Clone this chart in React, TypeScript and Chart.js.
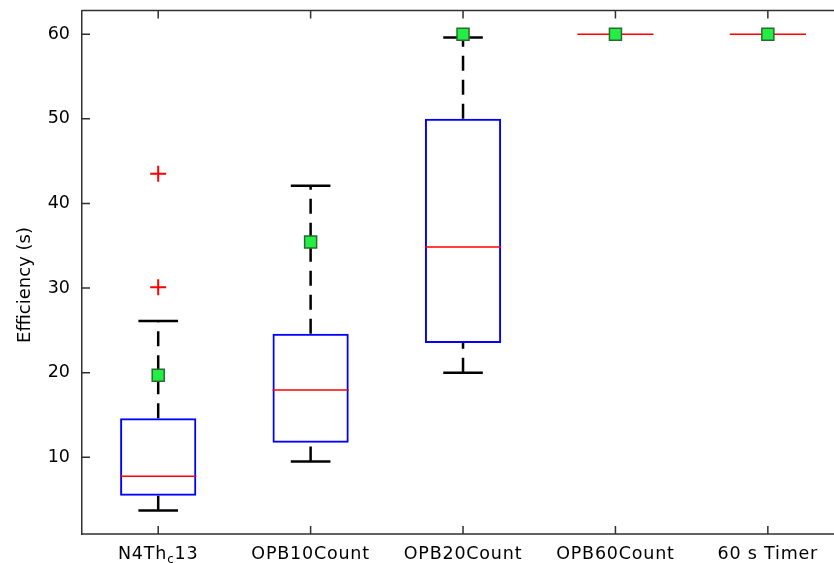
import React, { useEffect, useRef } from "react";
import { Chart, registerables } from "chart.js";

Chart.register(...registerables);

// ---- data ----
const categories = ["N4Th_c13", "OPB10Count", "OPB20Count", "OPB60Count", "60 s Timer"];
const q1 = [5.45, 11.7, 23.5, 60, 60];
const q3 = [14.6, 24.6, 50, 60, 60];
const medians = [7.75, 17.95, 34.85, 60, 60];
const whiskerLow = [3.7, 9.5, 20, 60, 60];
const whiskerHigh = [26.1, 42.1, 59.6, 60, 60];
const means = [19.7, 35.45, 60, 60, 60];
const outlierCategory = [1, 1];
const outlierValues = [43.5, 30.1];
const yTicks = [10, 20, 30, 40, 50, 60];
const yTitle = "Efficiency (s)";

const FONT = "DejaVu Sans";
const AXIS_COLOR = "#303030";

function drawLabel(ctx: CanvasRenderingContext2D, text: string, cx: number, baseline: number) {
  // supports "_x" single-char subscript
  const parts: { t: string; sub: boolean }[] = [];
  let i = 0;
  let buf = "";
  while (i < text.length) {
    if (text[i] === "_" && i + 1 < text.length) {
      if (buf) parts.push({ t: buf, sub: false });
      buf = "";
      parts.push({ t: text[i + 1], sub: true });
      i += 2;
    } else {
      buf += text[i];
      i++;
    }
  }
  if (buf) parts.push({ t: buf, sub: false });
  const mainFont = `17.5px "${FONT}"`;
  const subFont = `12px "${FONT}"`;
  let total = 0;
  const widths = parts.map((p) => {
    ctx.font = p.sub ? subFont : mainFont;
    const w = ctx.measureText(p.t).width;
    total += w;
    return w;
  });
  let x = cx - total / 2;
  parts.forEach((p, k) => {
    ctx.font = p.sub ? subFont : mainFont;
    ctx.fillText(p.t, x, p.sub ? baseline + 4 : baseline);
    x += widths[k];
  });
}

const boxPlugin = {
  id: "boxParts",
  beforeDatasetsDraw(chart: any) {
    const { ctx, scales } = chart;
    const xs = scales.x;
    const ys = scales.y;
    ctx.save();
    ctx.strokeStyle = "#000";
    ctx.lineWidth = 2.5;
    categories.forEach((_, i) => {
      const xc = xs.getPixelForValue(i + 1);
      const capL = xs.getPixelForValue(i + 1 - 0.13);
      const capR = xs.getPixelForValue(i + 1 + 0.13);
      if (whiskerHigh[i] > q3[i]) {
        ctx.setLineDash([15, 9]);
        ctx.beginPath();
        ctx.moveTo(xc, ys.getPixelForValue(q3[i]));
        ctx.lineTo(xc, ys.getPixelForValue(whiskerHigh[i]));
        ctx.stroke();
        ctx.setLineDash([]);
        ctx.beginPath();
        const y = ys.getPixelForValue(whiskerHigh[i]);
        ctx.moveTo(capL, y);
        ctx.lineTo(capR, y);
        ctx.stroke();
      }
      if (whiskerLow[i] < q1[i]) {
        ctx.setLineDash([15, 9]);
        ctx.beginPath();
        ctx.moveTo(xc, ys.getPixelForValue(whiskerLow[i]));
        ctx.lineTo(xc, ys.getPixelForValue(q1[i]));
        ctx.stroke();
        ctx.setLineDash([]);
        ctx.beginPath();
        const y = ys.getPixelForValue(whiskerLow[i]);
        ctx.moveTo(capL, y);
        ctx.lineTo(capR, y);
        ctx.stroke();
      }
    });
    ctx.restore();
  },
  afterDatasetDraw(chart: any, args: any) {
    if (args.index !== 0) return;
    const { ctx, scales } = chart;
    const xs = scales.x;
    const ys = scales.y;
    ctx.save();
    ctx.strokeStyle = "#ff0000";
    ctx.lineWidth = 1.6;
    categories.forEach((_, i) => {
      const y = ys.getPixelForValue(medians[i]);
      ctx.beginPath();
      ctx.moveTo(xs.getPixelForValue(i + 1 - 0.25), y);
      ctx.lineTo(xs.getPixelForValue(i + 1 + 0.25), y);
      ctx.stroke();
    });
    ctx.restore();
  },
  afterDraw(chart: any) {
    const { ctx, scales, chartArea, width } = chart;
    const xs = scales.x;
    const ys = scales.y;
    ctx.save();
    // keep the right edge of the frame clean (axes box is cut off there)
    ctx.fillStyle = "#fff";
    ctx.fillRect(chartArea.right - 2, chartArea.top + 1, width - chartArea.right + 2, chartArea.bottom - chartArea.top - 2);
    // frame top & bottom
    ctx.strokeStyle = AXIS_COLOR;
    ctx.lineWidth = 1.5;
    ctx.beginPath();
    ctx.moveTo(chartArea.left, chartArea.top);
    ctx.lineTo(chartArea.right, chartArea.top);
    ctx.moveTo(chartArea.left, chartArea.bottom);
    ctx.lineTo(chartArea.right, chartArea.bottom);
    ctx.stroke();
    // inner ticks
    ctx.beginPath();
    yTicks.forEach((v) => {
      const y = ys.getPixelForValue(v);
      ctx.moveTo(chartArea.left, y);
      ctx.lineTo(chartArea.left + 8, y);
    });
    categories.forEach((_, i) => {
      const x = xs.getPixelForValue(i + 1);
      ctx.moveTo(x, chartArea.top);
      ctx.lineTo(x, chartArea.top + 8);
      ctx.moveTo(x, chartArea.bottom);
      ctx.lineTo(x, chartArea.bottom - 8);
    });
    ctx.stroke();
    // x labels
    ctx.fillStyle = "#000";
    ctx.textAlign = "left";
    ctx.textBaseline = "alphabetic";
    (ctx as any).letterSpacing = "0.8px";
    categories.forEach((c, i) => {
      drawLabel(ctx, c, xs.getPixelForValue(i + 1), chartArea.bottom + 25);
    });
    (ctx as any).letterSpacing = "0px";
    // y title
    ctx.translate(25, 285);
    ctx.rotate(-Math.PI / 2);
    ctx.font = `18px "${FONT}"`;
    ctx.textAlign = "center";
    ctx.textBaseline = "middle";
    ctx.fillText(yTitle, 0, 0);
    ctx.restore();
  },
};

export default function App() {
  const ref = useRef<HTMLCanvasElement | null>(null);
  useEffect(() => {
    const canvas = ref.current;
    if (!canvas) return;
    const chart = new Chart(canvas, {
      type: "bar",
      data: {
        datasets: [
          {
            type: "bar",
            data: categories.map((_, i) => ({ x: i + 1, y: [q1[i], q3[i]] })) as any,
            backgroundColor: "rgba(0,0,0,0)",
            borderColor: "#0000ff",
            borderWidth: 2,
            borderSkipped: false,
            categoryPercentage: 1,
            barPercentage: 0.5,
            order: 3,
          } as any,
          {
            type: "scatter",
            data: outlierValues.map((v, i) => ({ x: outlierCategory[i], y: v })),
            pointStyle: "cross",
            pointRadius: 8,
            borderColor: "#ff0000",
            borderWidth: 2,
            order: 2,
          } as any,
          {
            type: "scatter",
            data: means.map((m, i) => ({ x: i + 1, y: m })),
            pointStyle: "rect",
            pointRadius: 8.5,
            backgroundColor: "#22ee44",
            borderColor: "#2a6a32",
            borderWidth: 1.5,
            order: 1,
          } as any,
        ],
      },
      options: {
        animation: false,
        responsive: false,
        devicePixelRatio: 1,
        events: [],
        layout: { autoPadding: false, padding: { left: 0, right: 0, top: 10.5, bottom: 29 } },
        plugins: { legend: { display: false }, tooltip: { enabled: false } },
        scales: {
          x: {
            type: "linear",
            display: false,
            min: 0.5,
            max: 5.434,
            offset: false,
            afterBuildTicks: (scale: any) => {
              scale.ticks = categories.map((_, i) => ({ value: i + 1 }));
            },
            afterFit: (scale: any) => {
              scale.paddingLeft = 0;
              scale.paddingRight = 0;
            },
          },
          y: {
            type: "linear",
            min: 0.93,
            max: 62.8,
            beginAtZero: false,
            grid: { display: false, drawTicks: false },
            border: { display: true, color: AXIS_COLOR, width: 1.5 },
            ticks: {
              color: "#000",
              font: { family: FONT, size: 17.5 },
              padding: 12,
            },
            afterBuildTicks: (scale: any) => {
              scale.ticks = yTicks.map((v) => ({ value: v }));
            },
            afterFit: (scale: any) => {
              scale.width = 82;
              scale.paddingTop = 0;
              scale.paddingBottom = 0;
            },
          },
        },
      } as any,
      plugins: [boxPlugin],
    });
    return () => chart.destroy();
  }, []);
  return (
    <div style={{ position: "fixed", left: 0, top: 0, width: 834, height: 563, background: "#fff" }}>
      <canvas ref={ref} width={834} height={563} />
    </div>
  );
}
